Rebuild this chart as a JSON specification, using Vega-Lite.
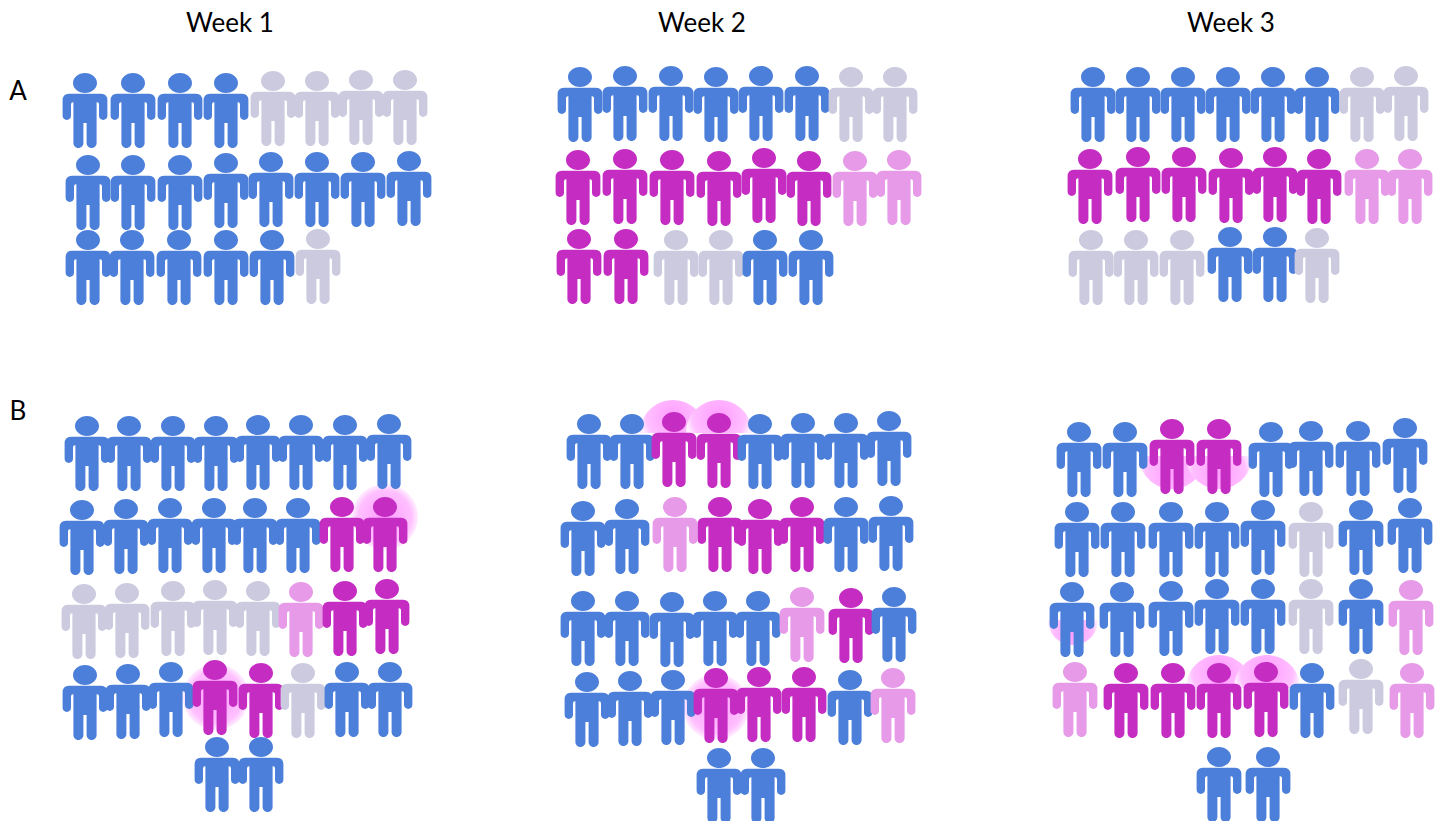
{"$schema":"https://vega.github.io/schema/vega-lite/v6.json","autosize":"none","width":1440,"height":821,"padding":0,"background":"white","view":{"stroke":null},
"datasets":{"people":[
{"panel":"A1","x":85,"y":83,"status":"blue"},{"panel":"A1","x":133,"y":83,"status":"blue"},{"panel":"A1","x":180,"y":83,"status":"blue"},{"panel":"A1","x":226,"y":83,"status":"blue"},{"panel":"A1","x":273,"y":81,"status":"grey"},{"panel":"A1","x":317,"y":81,"status":"grey"},{"panel":"A1","x":361,"y":80,"status":"grey"},{"panel":"A1","x":405,"y":80,"status":"grey"},
{"panel":"A1","x":88,"y":165,"status":"blue"},{"panel":"A1","x":133,"y":165,"status":"blue"},{"panel":"A1","x":180,"y":165,"status":"blue"},{"panel":"A1","x":226,"y":163,"status":"blue"},{"panel":"A1","x":271,"y":162,"status":"blue"},{"panel":"A1","x":317,"y":162,"status":"blue"},{"panel":"A1","x":363,"y":162,"status":"blue"},{"panel":"A1","x":409,"y":161,"status":"blue"},
{"panel":"A1","x":88,"y":240,"status":"blue"},{"panel":"A1","x":132,"y":240,"status":"blue"},{"panel":"A1","x":179,"y":240,"status":"blue"},{"panel":"A1","x":226,"y":240,"status":"blue"},{"panel":"A1","x":272,"y":240,"status":"blue"},{"panel":"A1","x":318,"y":239,"status":"grey"},
{"panel":"A2","x":580,"y":77,"status":"blue"},{"panel":"A2","x":625,"y":76,"status":"blue"},{"panel":"A2","x":671,"y":76,"status":"blue"},{"panel":"A2","x":716,"y":77,"status":"blue"},{"panel":"A2","x":761,"y":76,"status":"blue"},{"panel":"A2","x":807,"y":76,"status":"blue"},{"panel":"A2","x":851,"y":77,"status":"grey"},{"panel":"A2","x":895,"y":77,"status":"grey"},
{"panel":"A2","x":578,"y":160,"status":"magenta"},{"panel":"A2","x":625,"y":159,"status":"magenta"},{"panel":"A2","x":672,"y":160,"status":"magenta"},{"panel":"A2","x":719,"y":161,"status":"magenta"},{"panel":"A2","x":764,"y":158,"status":"magenta"},{"panel":"A2","x":809,"y":161,"status":"magenta"},{"panel":"A2","x":855,"y":161,"status":"light"},{"panel":"A2","x":899,"y":160,"status":"light"},
{"panel":"A2","x":579,"y":239,"status":"magenta"},{"panel":"A2","x":626,"y":239,"status":"magenta"},{"panel":"A2","x":676,"y":240,"status":"grey"},{"panel":"A2","x":721,"y":240,"status":"grey"},{"panel":"A2","x":765,"y":240,"status":"blue"},{"panel":"A2","x":811,"y":240,"status":"blue"},
{"panel":"A3","x":1093,"y":77,"status":"blue"},{"panel":"A3","x":1138,"y":77,"status":"blue"},{"panel":"A3","x":1183,"y":77,"status":"blue"},{"panel":"A3","x":1228,"y":77,"status":"blue"},{"panel":"A3","x":1273,"y":77,"status":"blue"},{"panel":"A3","x":1317,"y":77,"status":"blue"},{"panel":"A3","x":1362,"y":77,"status":"grey"},{"panel":"A3","x":1406,"y":76,"status":"grey"},
{"panel":"A3","x":1090,"y":159,"status":"magenta"},{"panel":"A3","x":1138,"y":157,"status":"magenta"},{"panel":"A3","x":1184,"y":157,"status":"magenta"},{"panel":"A3","x":1231,"y":158,"status":"magenta"},{"panel":"A3","x":1275,"y":157,"status":"magenta"},{"panel":"A3","x":1319,"y":159,"status":"magenta"},{"panel":"A3","x":1367,"y":159,"status":"light"},{"panel":"A3","x":1410,"y":159,"status":"light"},
{"panel":"A3","x":1091,"y":240,"status":"grey"},{"panel":"A3","x":1136,"y":240,"status":"grey"},{"panel":"A3","x":1182,"y":240,"status":"grey"},{"panel":"A3","x":1230,"y":237,"status":"blue"},{"panel":"A3","x":1275,"y":237,"status":"blue"},{"panel":"A3","x":1317,"y":238,"status":"grey"},
{"panel":"B1","x":87,"y":426,"status":"blue"},{"panel":"B1","x":129,"y":426,"status":"blue"},{"panel":"B1","x":173,"y":426,"status":"blue"},{"panel":"B1","x":216,"y":426,"status":"blue"},{"panel":"B1","x":258,"y":425,"status":"blue"},{"panel":"B1","x":301,"y":425,"status":"blue"},{"panel":"B1","x":345,"y":425,"status":"blue"},{"panel":"B1","x":389,"y":424,"status":"blue"},
{"panel":"B1","x":82,"y":510,"status":"blue"},{"panel":"B1","x":126,"y":509,"status":"blue"},{"panel":"B1","x":170,"y":508,"status":"blue"},{"panel":"B1","x":214,"y":508,"status":"blue"},{"panel":"B1","x":255,"y":508,"status":"blue"},{"panel":"B1","x":298,"y":508,"status":"blue"},{"panel":"B1","x":342,"y":507,"status":"magenta"},{"panel":"B1","x":385,"y":507,"status":"magenta"},
{"panel":"B1","x":84,"y":594,"status":"grey"},{"panel":"B1","x":127,"y":593,"status":"grey"},{"panel":"B1","x":173,"y":591,"status":"grey"},{"panel":"B1","x":215,"y":590,"status":"grey"},{"panel":"B1","x":258,"y":591,"status":"grey"},{"panel":"B1","x":301,"y":592,"status":"light"},{"panel":"B1","x":345,"y":591,"status":"magenta"},{"panel":"B1","x":387,"y":589,"status":"magenta"},
{"panel":"B1","x":85,"y":675,"status":"blue"},{"panel":"B1","x":128,"y":674,"status":"blue"},{"panel":"B1","x":171,"y":672,"status":"blue"},{"panel":"B1","x":215,"y":670,"status":"magenta"},{"panel":"B1","x":261,"y":673,"status":"magenta"},{"panel":"B1","x":303,"y":673,"status":"grey"},{"panel":"B1","x":347,"y":672,"status":"blue"},{"panel":"B1","x":390,"y":672,"status":"blue"},
{"panel":"B1","x":217,"y":747,"status":"blue"},{"panel":"B1","x":261,"y":747,"status":"blue"},
{"panel":"B2","x":589,"y":424,"status":"blue"},{"panel":"B2","x":632,"y":424,"status":"blue"},{"panel":"B2","x":674,"y":422,"status":"magenta"},{"panel":"B2","x":719,"y":423,"status":"magenta"},{"panel":"B2","x":760,"y":424,"status":"blue"},{"panel":"B2","x":803,"y":423,"status":"blue"},{"panel":"B2","x":846,"y":423,"status":"blue"},{"panel":"B2","x":889,"y":421,"status":"blue"},
{"panel":"B2","x":583,"y":511,"status":"blue"},{"panel":"B2","x":627,"y":509,"status":"blue"},{"panel":"B2","x":675,"y":507,"status":"light"},{"panel":"B2","x":720,"y":507,"status":"magenta"},{"panel":"B2","x":760,"y":509,"status":"magenta"},{"panel":"B2","x":802,"y":507,"status":"magenta"},{"panel":"B2","x":846,"y":507,"status":"blue"},{"panel":"B2","x":891,"y":506,"status":"blue"},
{"panel":"B2","x":583,"y":601,"status":"blue"},{"panel":"B2","x":627,"y":601,"status":"blue"},{"panel":"B2","x":672,"y":602,"status":"blue"},{"panel":"B2","x":715,"y":601,"status":"blue"},{"panel":"B2","x":758,"y":601,"status":"blue"},{"panel":"B2","x":802,"y":597,"status":"light"},{"panel":"B2","x":851,"y":598,"status":"magenta"},{"panel":"B2","x":894,"y":597,"status":"blue"},
{"panel":"B2","x":587,"y":682,"status":"blue"},{"panel":"B2","x":630,"y":681,"status":"blue"},{"panel":"B2","x":673,"y":680,"status":"blue"},{"panel":"B2","x":716,"y":678,"status":"magenta"},{"panel":"B2","x":759,"y":677,"status":"magenta"},{"panel":"B2","x":804,"y":677,"status":"magenta"},{"panel":"B2","x":850,"y":680,"status":"blue"},{"panel":"B2","x":893,"y":678,"status":"light"},
{"panel":"B2","x":719,"y":758,"status":"blue"},{"panel":"B2","x":763,"y":758,"status":"blue"},
{"panel":"B3","x":1079,"y":432,"status":"blue"},{"panel":"B3","x":1125,"y":432,"status":"blue"},{"panel":"B3","x":1172,"y":429,"status":"magenta"},{"panel":"B3","x":1219,"y":429,"status":"magenta"},{"panel":"B3","x":1271,"y":432,"status":"blue"},{"panel":"B3","x":1311,"y":431,"status":"blue"},{"panel":"B3","x":1358,"y":431,"status":"blue"},{"panel":"B3","x":1405,"y":428,"status":"blue"},
{"panel":"B3","x":1077,"y":512,"status":"blue"},{"panel":"B3","x":1123,"y":512,"status":"blue"},{"panel":"B3","x":1171,"y":512,"status":"blue"},{"panel":"B3","x":1217,"y":512,"status":"blue"},{"panel":"B3","x":1263,"y":510,"status":"blue"},{"panel":"B3","x":1311,"y":512,"status":"grey"},{"panel":"B3","x":1361,"y":510,"status":"blue"},{"panel":"B3","x":1410,"y":508,"status":"blue"},
{"panel":"B3","x":1072,"y":592,"status":"blue"},{"panel":"B3","x":1122,"y":592,"status":"blue"},{"panel":"B3","x":1171,"y":591,"status":"blue"},{"panel":"B3","x":1217,"y":589,"status":"blue"},{"panel":"B3","x":1263,"y":589,"status":"blue"},{"panel":"B3","x":1311,"y":589,"status":"grey"},{"panel":"B3","x":1361,"y":589,"status":"blue"},{"panel":"B3","x":1411,"y":590,"status":"light"},
{"panel":"B3","x":1075,"y":672,"status":"light"},{"panel":"B3","x":1126,"y":673,"status":"magenta"},{"panel":"B3","x":1173,"y":673,"status":"magenta"},{"panel":"B3","x":1219,"y":673,"status":"magenta"},{"panel":"B3","x":1266,"y":672,"status":"magenta"},{"panel":"B3","x":1312,"y":673,"status":"blue"},{"panel":"B3","x":1361,"y":669,"status":"grey"},{"panel":"B3","x":1412,"y":673,"status":"light"},
{"panel":"B3","x":1219,"y":757,"status":"blue"},{"panel":"B3","x":1268,"y":757,"status":"blue"}
],
"halos":[
{"x":385,"y":517,"part":"full"},{"x":216,"y":697,"part":"full"},{"x":673,"y":433,"part":"upper"},{"x":719,"y":433,"part":"upper"},{"x":716,"y":707,"part":"full"},{"x":1172,"y":456,"part":"lower"},{"x":1219,"y":456,"part":"lower"},{"x":1073,"y":620,"part":"cap"},{"x":1219,"y":688,"part":"upper"},{"x":1267,"y":688,"part":"upper"}
],
"labels":[{"label":"Week 1","x":230,"y":24},{"label":"Week 2","x":702,"y":24},{"label":"Week 3","x":1231,"y":24},{"label":"A","x":18,"y":92},{"label":"B","x":18,"y":412}]},
"layer":[
{"data":{"name":"halos"},"mark":{"type":"point","filled":true,"opacity":1,"size":4356,"fill":{"gradient":"radial","x1":0.5,"y1":0.5,"x2":0.5,"y2":0.5,"r1":0,"r2":0.5,"stops":[{"offset":0,"color":"#ff9cff"},{"offset":0.8,"color":"#ffc0ff"},{"offset":1,"color":"#ffeeff"}]}},
"encoding":{"x":{"field":"x","type":"quantitative","scale":{"domain":[0,1440]},"axis":null},"y":{"field":"y","type":"quantitative","scale":{"domain":[0,821],"reverse":true},"axis":null},
"shape":{"field":"part","type":"nominal","legend":null,"scale":{"domain":["full","upper","lower","cap"],"range":["M-1 0A1 1 0 1 1 1 0A1 1 0 1 1 -1 0Z","M-1 0A1 1 0 0 1 1 0Z","M-1 0A1 1 0 0 0 1 0Z","M-0.76 0A0.76 0.76 0 0 0 0.76 0Z"]}}}},
{"data":{"name":"people"},"mark":{"type":"point","filled":true,"opacity":1,"strokeWidth":0,"shape":"M-0.3 0A0.3 0.25 0 1 1 0.3 0A0.3 0.25 0 1 1 -0.3 0ZM-0.4 0.27L0.4 0.27Q0.56 0.27 0.56 0.44L0.56 0.82A0.105 0.105 0 0 1 0.35 0.82L0.35 0.53Q0.35 0.48 0.3 0.48L0.29 0.48L0.29 1.5A0.125 0.125 0 0 1 0.04 1.5L0.04 1L-0.04 1L-0.04 1.5A0.125 0.125 0 0 1 -0.29 1.5L-0.29 0.48L-0.3 0.48Q-0.35 0.48 -0.35 0.53L-0.35 0.82A0.105 0.105 0 0 1 -0.56 0.82L-0.56 0.44Q-0.56 0.27 -0.4 0.27Z"},
"encoding":{"x":{"field":"x","type":"quantitative","scale":{"domain":[0,1440]},"axis":null},"y":{"field":"y","type":"quantitative","scale":{"domain":[0,821],"reverse":true},"axis":null},
"size":{"field":"panel","type":"nominal","legend":null,"scale":{"domain":["A1","A2","A3","B1","B2","B3"],"range":[6400,6400,6084,5776,5776,6561]}},
"color":{"field":"status","type":"nominal","legend":null,"scale":{"domain":["blue","grey","magenta","light"],"range":["#4c7fd9","#cbcadf","#c42cc2","#e69ae8"]}}}},
{"data":{"name":"labels"},"mark":{"type":"text","font":"Lato","fontSize":26,"color":"#000000","align":"center","baseline":"middle"},
"encoding":{"x":{"field":"x","type":"quantitative","scale":{"domain":[0,1440]},"axis":null},"y":{"field":"y","type":"quantitative","scale":{"domain":[0,821],"reverse":true},"axis":null},"text":{"field":"label"}}}
],
"resolve":{"scale":{"color":"independent","shape":"independent"}},
"config":{"style":{"cell":{"stroke":null}}}}
